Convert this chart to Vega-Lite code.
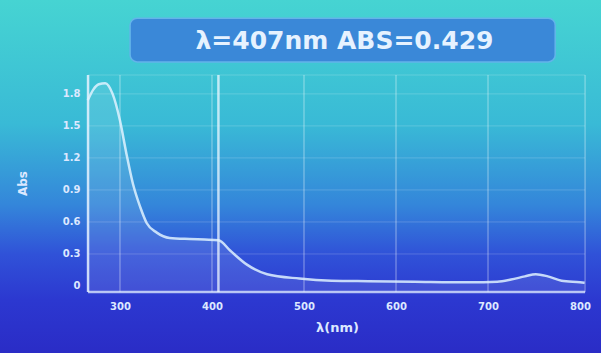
{
  "$schema": "https://vega.github.io/schema/vega-lite/v6.json",
  "width": 601,
  "height": 353,
  "autosize": {"type": "none"},
  "padding": 0,
  "background": "#2f7fd4",
  "config": {
    "view": {
      "stroke": null,
      "fill": {
        "gradient": "linear", "x1": 0, "y1": 0, "x2": 0, "y2": 1,
        "stops": [
          {"offset": 0, "color": "#46d4d2"},
          {"offset": 0.35, "color": "#39bad6"},
          {"offset": 0.58, "color": "#3486da"},
          {"offset": 0.72, "color": "#3052d8"},
          {"offset": 0.85, "color": "#2c38d0"},
          {"offset": 1, "color": "#2a2cc6"}
        ]
      }
    },
    "font": "DejaVu Sans"
  },
  "datasets": {
    "spectrum": [
      {"nm": 265, "abs": 1.74}, {"nm": 271, "abs": 1.84}, {"nm": 277, "abs": 1.89},
      {"nm": 284, "abs": 1.9}, {"nm": 292, "abs": 1.8}, {"nm": 300, "abs": 1.55},
      {"nm": 307, "abs": 1.24}, {"nm": 314, "abs": 0.96}, {"nm": 322, "abs": 0.74},
      {"nm": 329, "abs": 0.59}, {"nm": 340, "abs": 0.5}, {"nm": 354, "abs": 0.45},
      {"nm": 376, "abs": 0.44}, {"nm": 392, "abs": 0.435}, {"nm": 407, "abs": 0.429},
      {"nm": 420, "abs": 0.33}, {"nm": 438, "abs": 0.2}, {"nm": 460, "abs": 0.11},
      {"nm": 495, "abs": 0.07}, {"nm": 530, "abs": 0.05},
      {"nm": 570, "abs": 0.045}, {"nm": 620, "abs": 0.04}, {"nm": 680, "abs": 0.035},
      {"nm": 710, "abs": 0.04}, {"nm": 725, "abs": 0.06}, {"nm": 740, "abs": 0.09},
      {"nm": 752, "abs": 0.11}, {"nm": 765, "abs": 0.09}, {"nm": 780, "abs": 0.05},
      {"nm": 800, "abs": 0.035}, {"nm": 805, "abs": 0.03}
    ],
    "vgrid": [{"nm": 300}, {"nm": 400}, {"nm": 500}, {"nm": 600}, {"nm": 700}, {"nm": 805.5}],
    "hgrid": [{"a": 0.3}, {"a": 0.6}, {"a": 0.9}, {"a": 1.2}, {"a": 1.5}, {"a": 1.8}, {"a": 1.977}]
  },
  "layer": [
    {
      "data": {"name": "hgrid"},
      "mark": {"type": "rule", "color": "#ffffff", "opacity": 0.18, "strokeWidth": 1},
      "encoding": {
        "y": {
          "field": "a", "type": "quantitative",
          "scale": {"domain": [-0.628, 2.68], "nice": false, "zero": false},
          "axis": {
            "orient": "left", "offset": -88, "values": [0, 0.3, 0.6, 0.9, 1.2, 1.5, 1.8],
            "labelExpr": "datum.value == 0 ? '0' : format(datum.value, '.1f')",
            "domain": false, "ticks": false, "grid": false,
            "labelPadding": 8, "labelFontSize": 10, "labelFontWeight": "bold", "labelColor": "#dce8ff",
            "title": "Abs", "titleColor": "#dce8ff", "titleFontSize": 12, "titleFontWeight": "bold",
            "titleX": -59, "titleY": 183
          }
        },
        "x": {
          "datum": 265.3, "type": "quantitative",
          "scale": {"domain": [169.6, 822.8], "nice": false, "zero": false},
          "axis": {
            "orient": "bottom", "offset": -61, "values": [300, 400, 500, 600, 700, 800],
            "domain": false, "ticks": false, "grid": false,
            "labelPadding": 9, "labelFontSize": 10, "labelFontWeight": "bold", "labelColor": "#dce8ff",
            "title": "λ(nm)", "titleColor": "#dce8ff", "titleFontSize": 13, "titleFontWeight": "bold",
            "titlePadding": 10, "titleX": 337
          }
        },
        "x2": {"datum": 805.5}
      }
    },
    {
      "data": {"name": "vgrid"},
      "mark": {"type": "rule", "color": "#ffffff", "opacity": 0.3, "strokeWidth": 1.5},
      "encoding": {
        "x": {"field": "nm", "type": "quantitative"},
        "y": {"datum": -0.056, "type": "quantitative"},
        "y2": {"datum": 1.977}
      }
    },
    {
      "data": {"name": "spectrum"},
      "mark": {"type": "area", "color": "#ffffff", "opacity": 0.1, "interpolate": "monotone"},
      "encoding": {
        "x": {"field": "nm", "type": "quantitative"},
        "y": {"field": "abs", "type": "quantitative"},
        "y2": {"datum": -0.056}
      }
    },
    {
      "data": {"values": [{"t": "frame"}]},
      "mark": {"type": "rule", "color": "#e6f2ff", "opacity": 0.85, "strokeWidth": 2.5},
      "encoding": {
        "x": {"datum": 265.3, "type": "quantitative"},
        "y": {"datum": -0.056, "type": "quantitative"},
        "y2": {"datum": 1.977}
      }
    },
    {
      "data": {"values": [{"t": "frame"}]},
      "mark": {"type": "rule", "color": "#e6f2ff", "opacity": 0.75, "strokeWidth": 2.5},
      "encoding": {
        "x": {"datum": 265.3, "type": "quantitative"},
        "x2": {"datum": 805.5},
        "y": {"datum": -0.056, "type": "quantitative"}
      }
    },
    {
      "data": {"values": [{"cursor": 407}]},
      "mark": {"type": "rule", "color": "#f0f8ff", "opacity": 0.75, "strokeWidth": 2.5},
      "encoding": {
        "x": {"field": "cursor", "type": "quantitative"},
        "y": {"datum": -0.056, "type": "quantitative"},
        "y2": {"datum": 1.977}
      }
    },
    {
      "data": {"name": "spectrum"},
      "mark": {"type": "line", "color": "#dff2ff", "strokeWidth": 2.5, "opacity": 0.85, "interpolate": "monotone"},
      "encoding": {
        "x": {"field": "nm", "type": "quantitative"},
        "y": {"field": "abs", "type": "quantitative"}
      }
    },
    {
      "data": {"values": [{"label": "λ=407nm  ABS=0.429"}]},
      "mark": {"type": "rect", "fill": "#3a88d8", "stroke": "#63b4ea", "strokeWidth": 1.5, "cornerRadius": 7},
      "encoding": {
        "x": {"datum": 311, "type": "quantitative"},
        "x2": {"datum": 773},
        "y": {"datum": 2.51, "type": "quantitative"},
        "y2": {"datum": 2.1}
      }
    },
    {
      "data": {"values": [{"label": "λ=407nm  ABS=0.429"}]},
      "mark": {"type": "text", "color": "#e6f2ff", "fontSize": 25, "fontWeight": "bold", "align": "center", "baseline": "middle"},
      "encoding": {
        "text": {"field": "label"},
        "x": {"datum": 544, "type": "quantitative"},
        "y": {"datum": 2.3, "type": "quantitative"}
      }
    }
  ]
}
